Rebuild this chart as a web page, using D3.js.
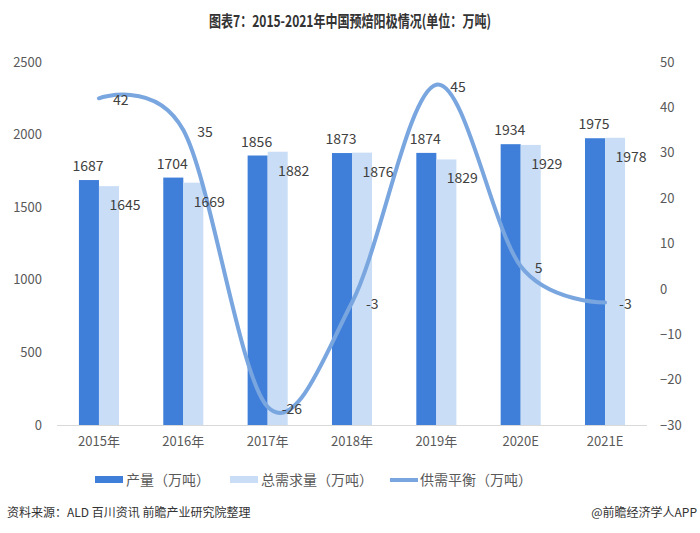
<!DOCTYPE html>
<html><head><meta charset="utf-8">
<script src="https://cdn.jsdelivr.net/npm/d3@7/dist/d3.min.js"></script>
<style>body{margin:0;background:#fff}svg{display:block}text{font-family:"Noto Sans CJK SC","Noto Sans",sans-serif}</style>
</head><body><svg id="c" width="700" height="533"></svg>
<script>
const categories = ["2015年","2016年","2017年","2018年","2019年","2020E","2021E"];
const production = [1687,1704,1856,1873,1874,1934,1975];
const demand = [1645,1669,1882,1876,1829,1929,1978];
const balance = [42,35,-26,-3,45,5,-3];
const leftTicks = [0,500,1000,1500,2000,2500];
const rightTicks = [-30,-20,-10,0,10,20,30,40,50];
const seriesNames = ["产量（万吨）","总需求量（万吨）","供需平衡（万吨）"];

const svg = d3.select("#c");
const L=57, R=647, T=62, B=425;
const darkC="#3f7fd9", lightC="#c9def6", lineC="#7aa6e0", txt="#404040", axC="#595959";

const x = d3.scaleBand().domain(categories).range([L,R]).paddingInner(0.525).paddingOuter(0.26);
const xs = d3.scaleBand().domain([0,1]).range([0,x.bandwidth()]);
const yL = d3.scaleLinear().domain([0,2500]).range([B,T]);
const yR = d3.scaleLinear().domain([-30,50]).range([B,T]);

svg.append("text").attr("x",350).attr("y",27).attr("text-anchor","middle")
  .attr("font-size",16).attr("font-weight","bold").attr("fill","#333")
  .attr("textLength",282).attr("lengthAdjust","spacingAndGlyphs")
  .text("图表7：2015-2021年中国预焙阳极情况(单位：万吨)");

// axes
const af = "'Noto Sans','Open Sans',sans-serif";
const gl = svg.append("g").attr("transform",`translate(${L-15},0)`)
  .call(d3.axisLeft(yL).tickValues(leftTicks).tickFormat(d3.format("d")).tickSize(0).tickPadding(0));
gl.select(".domain").remove();
gl.selectAll("text").attr("font-size",13).attr("fill",axC).attr("font-family",af);

const gr = svg.append("g").attr("transform",`translate(${R+13},0)`)
  .call(d3.axisRight(yR).tickValues(rightTicks).tickFormat(d3.format("d")).tickSize(0).tickPadding(0));
gr.select(".domain").remove();
gr.selectAll("text").attr("font-size",13).attr("fill",axC).attr("font-family",af);

const gx = svg.append("g").attr("transform",`translate(0,${B})`)
  .call(d3.axisBottom(x).tickSize(0).tickPadding(12));
gx.select(".domain").attr("stroke","#d9d9d9").attr("d",`M${L},0.5H${R}`);
gx.selectAll("text").attr("font-size",13).attr("fill",axC);

// bars
const g = svg.append("g");
g.selectAll("rect.p").data(production).join("rect")
  .attr("x",(d,i)=>x(categories[i])+xs(0)).attr("width",xs.bandwidth())
  .attr("y",d=>yL(d)).attr("height",d=>yL(0)-yL(d)).attr("fill",darkC);
g.selectAll("rect.d").data(demand).join("rect")
  .attr("x",(d,i)=>x(categories[i])+xs(1)).attr("width",xs.bandwidth())
  .attr("y",d=>yL(d)).attr("height",d=>yL(0)-yL(d)).attr("fill",lightC);

// line
const cx = (i)=>x(categories[i])+x.bandwidth()/2;
const line = d3.line().x((d,i)=>cx(i)).y(d=>yR(d)).curve(d3.curveCardinal.tension(0));
svg.append("path").datum(balance).attr("d",line).attr("fill","none")
  .attr("stroke",lineC).attr("stroke-width",4).attr("stroke-linecap","round");

// labels
const lf = af;
svg.selectAll("text.pl").data(production).join("text")
  .attr("x",(d,i)=>x(categories[i])+xs(0)+xs.bandwidth()/2-1).attr("y",d=>yL(d)-9)
  .attr("text-anchor","middle").attr("font-size",14).attr("fill",txt).attr("font-family",lf).text(d=>d);
svg.selectAll("text.dl").data(demand).join("text")
  .attr("x",(d,i)=>x(categories[i])+xs(1)+xs.bandwidth()/2+16).attr("y",d=>yL(d)+24)
  .attr("text-anchor","middle").attr("font-size",14).attr("fill",txt).attr("font-family",lf).text(d=>d);
svg.selectAll("text.bl").data(balance).join("text")
  .attr("x",(d,i)=>cx(i)+14).attr("y",d=>yR(d)+7)
  .attr("text-anchor","start").attr("font-size",14).attr("fill",txt).attr("font-family",lf).text(d=>d);

// legend
const lg = svg.append("g");
lg.append("rect").attr("x",95).attr("y",476).attr("width",28).attr("height",7).attr("fill",darkC);
lg.append("text").attr("x",126).attr("y",485).attr("font-size",14).attr("fill",axC).text(seriesNames[0]);
lg.append("rect").attr("x",230).attr("y",476).attr("width",28).attr("height",7).attr("fill",lightC);
lg.append("text").attr("x",261).attr("y",485).attr("font-size",14).attr("fill",axC).text(seriesNames[1]);
lg.append("line").attr("x1",390).attr("x2",418).attr("y1",480).attr("y2",480).attr("stroke",lineC).attr("stroke-width",4);
lg.append("text").attr("x",420).attr("y",485).attr("font-size",14).attr("fill",axC).text(seriesNames[2]);

// footer
svg.append("text").attr("x",7).attr("y",517).attr("font-size",12).attr("fill","#333").text("资料来源：ALD 百川资讯 前瞻产业研究院整理");
svg.append("text").attr("x",697).attr("y",517).attr("text-anchor","end").attr("font-size",12).attr("fill","#333").text("@前瞻经济学人APP");
</script></body></html>
